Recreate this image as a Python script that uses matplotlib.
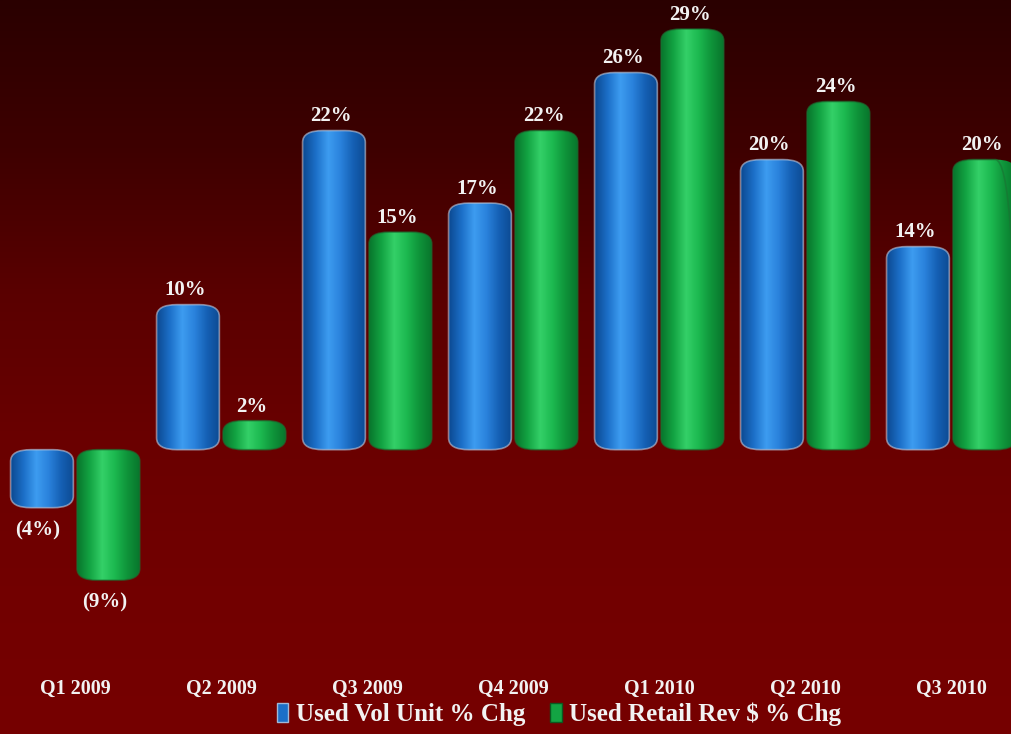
import numpy as np
import matplotlib.pyplot as plt
from matplotlib.colors import LinearSegmentedColormap
from matplotlib.patches import FancyBboxPatch, Patch

quarters = ["Q1 2009", "Q2 2009", "Q3 2009", "Q4 2009", "Q1 2010", "Q2 2010", "Q3 2010"]
vol_unit = [-4, 10, 22, 17, 26, 20, 14]
retail_rev = [-9, 2, 15, 22, 29, 24, 20]
series_names = ["Used Vol Unit % Chg", "Used Retail Rev $ % Chg"]


def pct(v):
    return f"({abs(v)}%)" if v < 0 else f"{v}%"


blue_cmap = LinearSegmentedColormap.from_list(
    "blue_cyl", ["#0c4a92", "#1c6fc8", "#3d9cf0", "#2a82dc", "#1560b4", "#0c4a92"])
green_cmap = LinearSegmentedColormap.from_list(
    "green_cyl", ["#08752c", "#13a443", "#34d068", "#1cb950", "#0f943a", "#08752c"])
bg_cmap = LinearSegmentedColormap.from_list(
    "bg", ["#2a0000", "#3e0000", "#5a0000", "#6a0000", "#720000", "#760000"])

serif = ["Liberation Serif", "DejaVu Serif"]

fig = plt.figure(figsize=(10.11, 7.34), dpi=100)
ax = fig.add_axes([0, 0, 1, 1])
xlim = (-0.515, 6.41)
ylim = (-19.6, 31.0)
ax.set_xlim(*xlim)
ax.set_ylim(*ylim)
ax.axis("off")

# background gradient, dark at the top
grad = np.linspace(0, 1, 256).reshape(-1, 1)
ax.imshow(grad, extent=[xlim[0], xlim[1], ylim[0], ylim[1]], aspect="auto",
          cmap=bg_cmap, zorder=0, origin="upper")

width = 0.43
gap = 0.025
shade = np.linspace(0, 1, 128).reshape(1, -1)


def cylinder(x0, v, cmap, rim):
    y0, h = (0, v) if v >= 0 else (v, -v)
    patch = FancyBboxPatch((x0, y0), width, h,
                           boxstyle="round,pad=0,rounding_size=0.14",
                           mutation_aspect=5.8,
                           facecolor="none", edgecolor=rim, linewidth=1.2,
                           zorder=3)
    ax.add_patch(patch)
    im = ax.imshow(shade, extent=[x0, x0 + width, y0, y0 + h], aspect="auto",
                   cmap=cmap, zorder=2)
    im.set_clip_path(patch)


for i, q in enumerate(quarters):
    xb = i - width - gap / 2
    xg = i + gap / 2
    cylinder(xb, vol_unit[i], blue_cmap, (0.75, 0.8, 0.88, 0.6))
    cylinder(xg, retail_rev[i], green_cmap, (0.1, 0.45, 0.2, 0.6))
    for x0, v in ((xb, vol_unit[i]), (xg, retail_rev[i])):
        if v >= 0:
            ax.annotate(pct(v), (x0 + width / 2, v), xytext=(-2, 3),
                        textcoords="offset points", ha="center", va="bottom",
                        color="#f2f2f2", fontsize=15, fontweight="bold",
                        family=serif, zorder=4)
        else:
            ax.annotate(pct(v), (x0 + width / 2, v), xytext=(-3, -9),
                        textcoords="offset points", ha="center", va="top",
                        color="#f2f2f2", fontsize=15, fontweight="bold",
                        family=serif, zorder=4)
    ax.text(i, -16.5, q, ha="center", va="center", color="#f2f2f2",
            fontsize=14.5, fontweight="bold", family=serif, zorder=4)

handles = [Patch(facecolor="#1c6fc8", edgecolor="#a0b8d8"),
           Patch(facecolor="#13a443", edgecolor="#0a5a20")]
fig.legend(handles, series_names, loc="center", bbox_to_anchor=(0.553, 0.027),
           ncol=2, frameon=False, handlelength=0.45, handleheight=0.8,
           handletextpad=0.3, columnspacing=1.0,
           prop={"family": serif, "size": 18, "weight": "bold"},
           labelcolor="#f2f2f2")

fig.savefig("out.png", dpi=100)
